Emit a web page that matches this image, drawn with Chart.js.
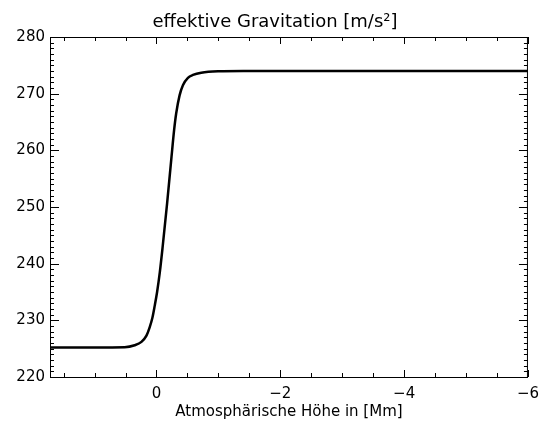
<!DOCTYPE html>
<html lang="de">
<head>
    <meta charset="UTF-8">
    <title>effektive Gravitation</title>
    <script src="https://cdn.jsdelivr.net/npm/chart.js"></script>
    <style>
        html, body { margin: 0; padding: 0; background: #fff; }
        #chartBox { width: 547px; height: 421px; }
    </style>
</head>
<body>
    <div id="chartBox"><canvas id="gravChart"></canvas></div>

    <script>
        // Höhe in Mm (Achse läuft nach rechts ins Negative)
        const heightMm = [1.72, 1.0, 0.514, 0.352, 0.243, 0.162, 0.109, 0.065, 0.028, -0.01, -0.054, -0.097,
            -0.172, -0.243, -0.285, -0.318, -0.373, -0.427, -0.508, -0.589, -0.723, -0.994, -1.4, -2, -4, -6];
        // effektive Gravitation in m/s^2
        const gravity = [225.2, 225.2, 225.25, 225.6, 226.2, 227.3, 228.8, 230.5, 232.6, 235.0, 238.5, 242.7,
            250.7, 258.9, 263.6, 266.5, 269.7, 271.5, 272.8, 273.3, 273.7, 273.95, 274.0, 274.0, 274.0, 274.0];

        const chartTitle = 'effektive Gravitation [m/s²]';
        const xTicks = [0, -2, -4, -6];
        const yTicks = [220, 230, 240, 250, 260, 270, 280];

        const fontFamily = '"DejaVu Sans", sans-serif';

        // IDL-artige Achsen: Rahmen rundum, Striche nach innen auf allen vier Seiten, Titel über dem Rahmen
        const idlFrame = {
            id: 'idlFrame',
            afterDraw(chart) {
                const { ctx, chartArea: a, scales: { x, y } } = chart;
                ctx.save();
                ctx.strokeStyle = '#000';
                ctx.lineWidth = 1;
                ctx.strokeRect(a.left + 0.5, a.top + 0.5, a.right - a.left - 1, a.bottom - a.top);

                ctx.beginPath();
                // x: Haupt- alle 2, Neben- alle 0.5
                for (let v = -6; v <= 1.72; v += 0.5) {
                    const px = Math.round(x.getPixelForValue(v)) + 0.5;
                    const len = (Math.abs(v % 2) < 1e-6) ? 7 : 4;
                    ctx.moveTo(px, a.bottom); ctx.lineTo(px, a.bottom - len);
                    ctx.moveTo(px, a.top); ctx.lineTo(px, a.top + len);
                }
                // y: Haupt- alle 10, Neben- alle 1
                for (let v = 220; v <= 280; v += 1) {
                    const py = Math.round(y.getPixelForValue(v)) + 0.5;
                    const len = (v % 10 === 0) ? 9 : 4;
                    ctx.moveTo(a.left, py); ctx.lineTo(a.left + len, py);
                    ctx.moveTo(a.right, py); ctx.lineTo(a.right - len, py);
                }
                ctx.stroke();

                ctx.fillStyle = '#000';
                ctx.font = '18px ' + fontFamily;
                ctx.textAlign = 'center';
                ctx.textBaseline = 'middle';
                ctx.fillText(chartTitle, 275, 22);
                ctx.restore();
            }
        };

        const ctx = document.getElementById('gravChart').getContext('2d');
        new Chart(ctx, {
            type: 'scatter',
            data: {
                datasets: [{
                    data: heightMm.map((h, i) => ({ x: h, y: gravity[i] })),
                    showLine: true,
                    borderColor: '#000',
                    borderWidth: 2.5,
                    pointRadius: 0,
                    cubicInterpolationMode: 'monotone',
                    fill: false
                }]
            },
            options: {
                responsive: true,
                maintainAspectRatio: false,
                animation: false,
                layout: { padding: { left: 0, right: 19, top: 37, bottom: 0 } },
                plugins: {
                    legend: { display: false },
                    tooltip: { enabled: false },
                    title: { display: false }
                },
                scales: {
                    x: {
                        type: 'linear',
                        reverse: true,
                        min: -6,
                        max: 1.72,
                        afterBuildTicks: s => { s.ticks = xTicks.map(v => ({ value: v })); },
                        afterFit: s => { s.height = 44; },
                        grid: { display: false, drawTicks: false },
                        border: { display: false },
                        ticks: {
                            color: '#000',
                            padding: 8,
                            maxRotation: 0,
                            font: { family: fontFamily, size: 15 },
                            callback: v => (v < 0 ? '\u2212' + Math.abs(v) : String(v))
                        },
                        title: {
                            display: true,
                            text: 'Atmosphärische Höhe in [Mm]',
                            color: '#000',
                            font: { family: fontFamily, size: 15 },
                            padding: { top: 1, bottom: 0 }
                        }
                    },
                    y: {
                        type: 'linear',
                        min: 220,
                        max: 280,
                        afterBuildTicks: s => { s.ticks = yTicks.map(v => ({ value: v })); },
                        afterFit: s => { s.width = 50; },
                        grid: { display: false, drawTicks: false },
                        border: { display: false },
                        ticks: {
                            color: '#000',
                            padding: 5,
                            font: { family: fontFamily, size: 15 }
                        }
                    }
                }
            },
            plugins: [idlFrame]
        });
    </script>
</body>
</html>
